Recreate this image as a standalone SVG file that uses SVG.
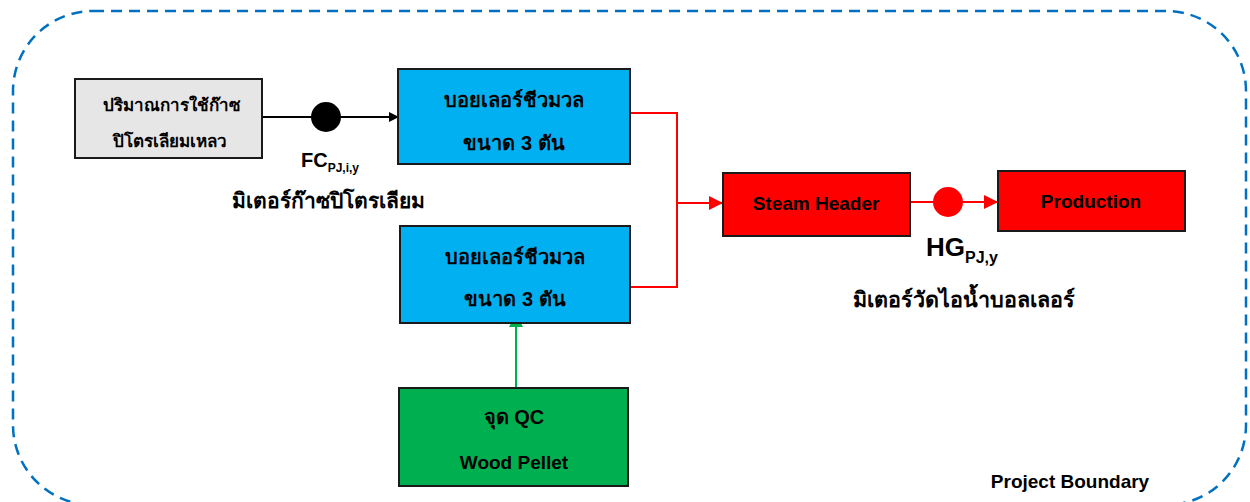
<svg xmlns="http://www.w3.org/2000/svg" width="1250" height="502" viewBox="0 0 1250 502">
<style>
text{font-family:"Liberation Sans",Arial,sans-serif;font-weight:bold;fill:#000;text-anchor:middle}
.t{font-size:19px}
.th{font-size:20px}
.box{stroke:#1a1a1a;stroke-width:2}
</style>
<defs>
<marker id="ab" markerWidth="10" markerHeight="10" refX="9" refY="5" orient="auto" markerUnits="userSpaceOnUse"><path d="M0,0 L10,5 L0,10 z" fill="#000"/></marker>
<marker id="ar" markerWidth="14" markerHeight="14" refX="13" refY="7" orient="auto" markerUnits="userSpaceOnUse"><path d="M0,0 L14,7 L0,14 z" fill="#FF0000"/></marker>
<marker id="ag" markerWidth="14" markerHeight="14" refX="13" refY="7" orient="auto" markerUnits="userSpaceOnUse"><path d="M0,0 L14,7 L0,14 z" fill="#00B050"/></marker>
</defs>
<rect x="13" y="11" width="1233" height="494" rx="80" fill="none" stroke="#0070C0" stroke-width="2.5" stroke-dasharray="11,7"/>
<g id="connectors">
<line x1="262" y1="117" x2="398" y2="117" stroke="#000" stroke-width="2" marker-end="url(#ab)"/>
<circle cx="326" cy="117" r="15" fill="#000"/>
<path d="M630,113 H677 V287 H630" fill="none" stroke="#FF0000" stroke-width="2"/>
<line x1="677" y1="203" x2="722" y2="203" stroke="#FF0000" stroke-width="2" marker-end="url(#ar)"/>
<line x1="910" y1="202" x2="997" y2="202" stroke="#FF0000" stroke-width="2" marker-end="url(#ar)"/>
<circle cx="948" cy="202" r="15" fill="#FF0000"/>
<line x1="516" y1="387" x2="516" y2="314" stroke="#00B050" stroke-width="2" marker-end="url(#ag)"/>
</g>
<g id="lpg">
<rect class="box" x="75" y="79" width="187" height="79" fill="#E6E6E6"/>
<text x="172" y="111" style="font-size:17px">ปริมาณการใช้ก๊าซ</text>
<text x="170" y="147" style="font-size:17px">ปิโตรเลียมเหลว</text>
</g>
<g id="boiler1">
<rect class="box" x="398" y="69" width="232" height="95" fill="#00B0F0"/>
<text class="th" x="514" y="107">บอยเลอร์ชีวมวล</text>
<text class="th" x="514" y="150">ขนาด 3 ตัน</text>
</g>
<g id="boiler2">
<rect class="box" x="400" y="226" width="230" height="97" fill="#00B0F0"/>
<text class="th" x="515" y="264">บอยเลอร์ชีวมวล</text>
<text class="th" x="515" y="306">ขนาด 3 ตัน</text>
</g>
<g id="steam">
<rect class="box" x="723" y="173" width="187" height="63" fill="#FF0000"/>
<text class="t" x="816" y="210">Steam Header</text>
</g>
<g id="production">
<rect class="box" x="998" y="171" width="187" height="60" fill="#FF0000"/>
<text class="t" x="1091" y="208">Production</text>
</g>
<g id="qc">
<rect class="box" x="399" y="388" width="229" height="98" fill="#00B050"/>
<text class="th" x="514" y="424">จุด QC</text>
<text class="t" x="514" y="469">Wood Pellet</text>
</g>
<g id="labels">
<text x="301" y="167" style="text-anchor:start;font-size:20px">FC<tspan font-size="12" dy="5">PJ,i,y</tspan></text>
<text x="328" y="208" style="font-size:21px">มิเตอร์ก๊าซปิโตรเลียม</text>
<text x="926" y="256" style="text-anchor:start;font-size:26px">HG<tspan font-size="16" dy="7">PJ,y</tspan></text>
<text x="964" y="307" style="font-size:21.5px">มิเตอร์วัดไอน้ำบอลเลอร์</text>
<text x="1070" y="488" style="font-size:19px">Project Boundary</text>
</g>
</svg>
